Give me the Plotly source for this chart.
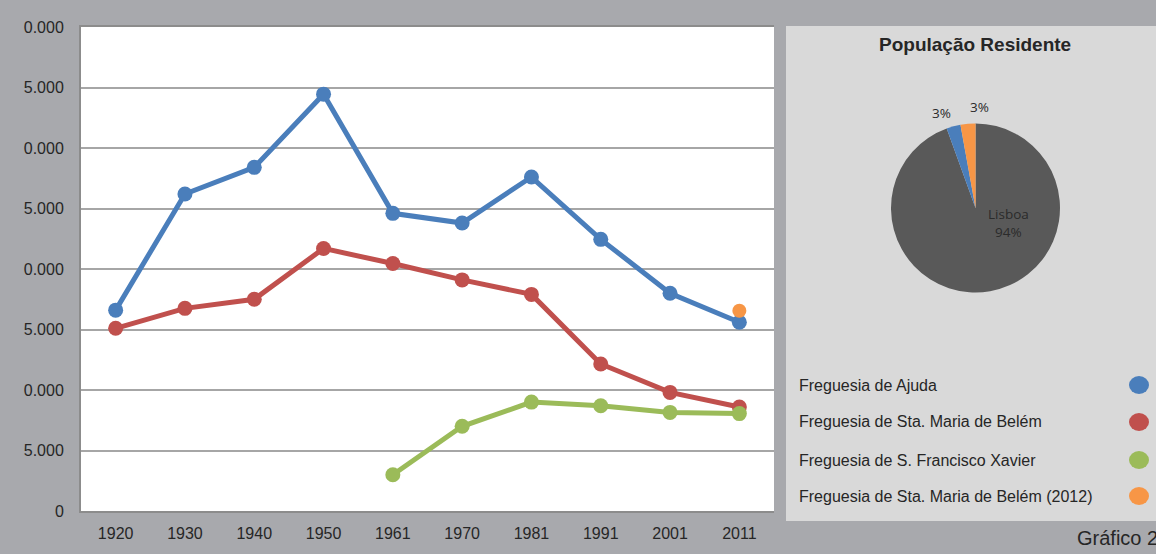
import plotly.graph_objects as go

W, H = 1156, 554

years = ["1920", "1930", "1940", "1950", "1961", "1970", "1981", "1991", "2001", "2011"]
ajuda = [16600, 26200, 28400, 34450, 24600, 23800, 27600, 22450, 18000, 15600]
belem = [15100, 16750, 17500, 21700, 20450, 19100, 17900, 12150, 9800, 8600]
sfx = [None, None, None, None, 3000, 7000, 9000, 8700, 8150, 8050]
belem2012 = [None, None, None, None, None, None, None, None, None, 16550]

series_names = [
    "Freguesia de Ajuda",
    "Freguesia de Sta. Maria de Belém",
    "Freguesia de S. Francisco Xavier",
    "Freguesia de Sta. Maria de Belém (2012)",
]
series_colors = ["#4a7ebb", "#c0504d", "#9bbb59", "#f79646"]

ytickvals = [0, 5000, 10000, 15000, 20000, 25000, 30000, 35000, 40000]
yticktext = ["0", "5.000", "0.000", "5.000", "0.000", "5.000", "0.000", "5.000", "0.000"]

pie_labels = ["Lisboa", "Ajuda", "Belém (2012)"]
pie_values = [547733, 15584, 16528]
pie_colors = ["#595959", "#4a7ebb", "#f79646"]

pie_title = "População Residente"
caption = "Gráfico 2"

FONT = "Liberation Sans, Arial, sans-serif"
TXT = "#262626"


def px(x):
    return x / W


def py(y):
    return 1 - y / H


fig = go.Figure()

for name, vals, col in zip(series_names[:3], [ajuda, belem, sfx], series_colors[:3]):
    fig.add_trace(go.Scatter(
        x=years, y=vals, mode="lines+markers", name=name,
        line=dict(color=col, width=5),
        marker=dict(color=col, size=15),
        connectgaps=False, showlegend=False,
    ))
fig.add_trace(go.Scatter(
    x=years, y=belem2012, mode="markers", name=series_names[3],
    marker=dict(color=series_colors[3], size=14), showlegend=False,
))

# pie
cx, cy, r = 975.5, 208, 84.5
fig.add_trace(go.Pie(
    labels=pie_labels, values=pie_values, sort=False, direction="clockwise",
    rotation=0, marker=dict(colors=pie_colors, line=dict(width=0)),
    textinfo="none", hoverinfo="label+percent", showlegend=False, automargin=False,
    domain=dict(x=[px(cx - r), px(cx + r)], y=[py(cy + r), py(cy - r)]),
))

total = sum(pie_values)
pcts = [round(v / total * 100) for v in pie_values]

shapes = []
annotations = []

# right panel
shapes.append(dict(type="rect", xref="paper", yref="paper",
                   x0=px(786), x1=1.0, y0=py(521), y1=py(26),
                   fillcolor="#d9d9d9", line=dict(width=0), layer="below"))

annotations.append(dict(text="<b>" + pie_title + "</b>", x=px(975), y=py(44),
                        xref="paper", yref="paper", showarrow=False,
                        font=dict(family=FONT, size=19, color=TXT),
                        xanchor="center", yanchor="middle"))

pie_font = dict(family="Open Sans, Liberation Sans, sans-serif", size=13.5, color="#2b2b2b")
annotations.append(dict(text=f"{pcts[1]}%", x=px(941), y=py(113), xref="paper", yref="paper",
                        showarrow=False, font=pie_font, xanchor="center", yanchor="middle"))
annotations.append(dict(text=f"{pcts[2]}%", x=px(979), y=py(107), xref="paper", yref="paper",
                        showarrow=False, font=pie_font, xanchor="center", yanchor="middle"))
annotations.append(dict(text=f"{pie_labels[0]}<br>{pcts[0]}%", x=px(1008), y=py(223),
                        xref="paper", yref="paper", showarrow=False, font=pie_font,
                        xanchor="center", yanchor="middle"))

# custom legend
leg_y = [385, 422, 460, 496]
for name, col, ly in zip(series_names, series_colors, leg_y):
    annotations.append(dict(text=name, x=px(797), y=py(ly), xref="paper", yref="paper",
                            showarrow=False, xanchor="left", yanchor="middle",
                            font=dict(family=FONT, size=16, color=TXT)))
    shapes.append(dict(type="circle", xref="paper", yref="paper",
                       x0=px(1129), x1=px(1149), y0=py(ly + 9), y1=py(ly - 9),
                       fillcolor=col, line=dict(width=0)))

annotations.append(dict(text=caption, x=px(1075), y=py(538), xref="paper", yref="paper",
                        showarrow=False, xanchor="left", yanchor="middle",
                        font=dict(family=FONT, size=20, color=TXT)))

fig.update_layout(
    width=W, height=H, autosize=False,
    margin=dict(l=0, r=0, t=0, b=0, pad=0),
    paper_bgcolor="#a8a9ad",
    plot_bgcolor="#ffffff",
    font=dict(family=FONT, color=TXT),
    showlegend=False,
    shapes=shapes,
    annotations=annotations,
    xaxis=dict(
        type="category", domain=[px(81), px(774)], range=[-0.5, 9.5],
        showgrid=False, showline=True, linecolor="#8c8c8c", linewidth=2, mirror=True,
        ticks="", tickfont=dict(size=16, color=TXT, family=FONT),
        ticklabelstandoff=7, fixedrange=True, automargin=False,
    ),
    yaxis=dict(
        domain=[py(511), py(27)], range=[0, 40000],
        tickvals=ytickvals, ticktext=yticktext,
        showgrid=True, gridcolor="#a6a6a6", gridwidth=1.5,
        showline=True, linecolor="#8c8c8c", linewidth=2, zeroline=False,
        ticks="", tickfont=dict(size=16, color=TXT, family=FONT),
        ticklabelstandoff=12, fixedrange=True, automargin=False,
    ),
)

fig.write_html(
    "out.html",
    config={"displayModeBar": False, "responsive": False},
    post_script="document.body.style.margin='0';document.body.style.overflow='hidden';",
)
